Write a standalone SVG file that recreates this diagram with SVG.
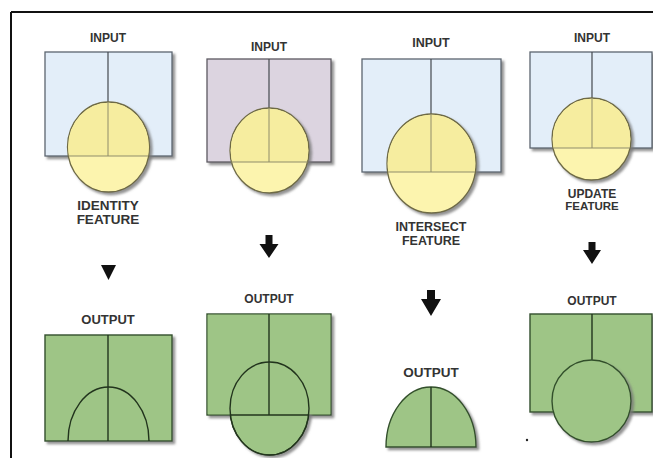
<svg xmlns="http://www.w3.org/2000/svg" width="653" height="458" viewBox="0 0 653 458">
<defs>
<filter id="sh" x="-10%" y="-10%" width="130%" height="130%">
<feDropShadow dx="2.5" dy="2.5" stdDeviation="1.2" flood-color="#777" flood-opacity="0.8"/>
</filter>
<clipPath id="c1"><rect x="45" y="52" width="127" height="104"/></clipPath>
<clipPath id="c2"><rect x="207" y="59" width="124" height="103"/></clipPath>
<clipPath id="c3"><rect x="362" y="59" width="139" height="113"/></clipPath>
<clipPath id="c4"><rect x="530" y="52" width="122" height="96"/></clipPath>
</defs>
<style>
text{font-family:"Liberation Sans",Arial,sans-serif;font-weight:bold;fill:#333;text-anchor:middle}
.blue{fill:#e3eef9;stroke:#5d6670;stroke-width:1.3}
.lav{fill:#dcd4e0;stroke:#5d5a62;stroke-width:1.3}
.yel{fill:#fcf4ae;stroke:#6e6a45;stroke-width:1.3}
.yin{fill:#f6ed9f}
.ln{stroke:#44484e;stroke-width:1.2;fill:none}
.lnl{stroke:#8f8c6a;stroke-width:1;fill:none}
.grn{fill:#9ec586;stroke:#33502c;stroke-width:1.4}
.gl{stroke:#22341d;stroke-width:1.4;fill:none}
.arr{fill:#111}
</style>
<g id="frame">
<line x1="11" y1="12" x2="653" y2="12" stroke="#111" stroke-width="2"/>
<line x1="11" y1="12" x2="11" y2="458" stroke="#111" stroke-width="2"/>
</g>
<g id="identity-input">
<text x="108" y="42" font-size="12">INPUT</text>
<rect class="blue" x="45" y="52" width="127" height="104" filter="url(#sh)"/>
<line class="ln" x1="108" y1="52" x2="108" y2="102"/>
<ellipse class="yel" cx="108.5" cy="147" rx="41" ry="45" filter="url(#sh)"/>
<ellipse class="yin" cx="108.5" cy="147" rx="40.3" ry="44.3" clip-path="url(#c1)"/>
<line class="lnl" x1="108" y1="102" x2="108" y2="156"/>
<line class="lnl" x1="69" y1="156" x2="148" y2="156"/>
</g>
<g id="identity-feature">
<text x="108" y="210" font-size="13.5">IDENTITY</text>
<text x="108" y="224" font-size="13.5">FEATURE</text>
</g>
<g id="identity-output">
<text x="108" y="324" font-size="13">OUTPUT</text>
<rect class="grn" x="45" y="335" width="127" height="106" filter="url(#sh)"/>
<line class="gl" x1="108" y1="335" x2="108" y2="441"/>
<path class="gl" d="M68,441 A40.5,54 0 0 1 149,441"/>
</g>
<g id="merge-input">
<text x="269" y="51" font-size="12">INPUT</text>
<rect class="lav" x="207" y="59" width="124" height="103" filter="url(#sh)"/>
<line class="ln" x1="269" y1="59" x2="269" y2="108"/>
<ellipse class="yel" cx="269.5" cy="150.5" rx="39.5" ry="42.5" filter="url(#sh)"/>
<ellipse class="yin" cx="269.5" cy="150.5" rx="38.8" ry="41.8" clip-path="url(#c2)"/>
<line class="lnl" x1="269" y1="108" x2="269" y2="162"/>
<line class="lnl" x1="231" y1="162" x2="308" y2="162"/>
</g>
<g id="merge-output">
<text x="269" y="303" font-size="12">OUTPUT</text>
<rect class="grn" x="207" y="314" width="124" height="101" filter="url(#sh)"/>
<ellipse class="grn" cx="269.5" cy="408.5" rx="39.5" ry="46.5" filter="url(#sh)"/>
<rect x="207.7" y="314.7" width="122.6" height="99.6" fill="#9ec586"/>
<ellipse class="gl" cx="269.5" cy="408.5" rx="39.5" ry="46.5" stroke="#33502c"/>
<line class="gl" x1="269" y1="314" x2="269" y2="415"/>
<line class="gl" x1="230" y1="415" x2="309" y2="415" stroke="#33502c"/>
</g>
<g id="intersect-input">
<text x="431" y="47" font-size="12.5">INPUT</text>
<rect class="blue" x="362" y="59" width="139" height="113" filter="url(#sh)"/>
<line class="ln" x1="431" y1="59" x2="431" y2="114"/>
<ellipse class="yel" cx="431.5" cy="163.5" rx="44.5" ry="49.5" filter="url(#sh)"/>
<ellipse class="yin" cx="431.5" cy="163.5" rx="43.8" ry="48.8" clip-path="url(#c3)"/>
<line class="lnl" x1="431" y1="114" x2="431" y2="172"/>
<line class="lnl" x1="388" y1="172" x2="475" y2="172"/>
</g>
<g id="intersect-feature">
<text x="431" y="231" font-size="12.5">INTERSECT</text>
<text x="431" y="244.5" font-size="12.5">FEATURE</text>
</g>
<g id="intersect-output">
<text x="431" y="377" font-size="13.5">OUTPUT</text>
<path class="grn" d="M386,447 A45,60 0 0 1 476,447 Z" filter="url(#sh)"/>
<line class="gl" x1="431" y1="387" x2="431" y2="447"/>
</g>
<g id="update-input">
<text x="592" y="42" font-size="12">INPUT</text>
<rect class="blue" x="530" y="52" width="122" height="96" filter="url(#sh)"/>
<line class="ln" x1="592" y1="52" x2="592" y2="98"/>
<ellipse class="yel" cx="591.5" cy="139" rx="39.5" ry="41" filter="url(#sh)"/>
<ellipse class="yin" cx="591.5" cy="139" rx="38.8" ry="40.3" clip-path="url(#c4)"/>
<line class="lnl" x1="592" y1="98" x2="592" y2="148"/>
<line class="lnl" x1="553" y1="148" x2="630" y2="148"/>
</g>
<g id="update-feature">
<text x="592" y="198" font-size="12">UPDATE</text>
<text x="592" y="210" font-size="11.5">FEATURE</text>
</g>
<g id="update-output">
<text x="592" y="305" font-size="12">OUTPUT</text>
<rect class="grn" x="530" y="314" width="122" height="98" filter="url(#sh)"/>
<line class="gl" x1="592" y1="314" x2="592" y2="360"/>
<ellipse class="grn" cx="591.5" cy="401" rx="39.5" ry="41" filter="url(#sh)"/>
</g>
<g id="connectors">
<polygon class="arr" points="101,265 116,265 108.5,280"/>
<polygon class="arr" points="265.5,235 272.5,235 272.5,244 278.5,244 269,258 259.5,244 265.5,244"/>
<polygon class="arr" points="427,290 435,290 435,299 441,299 431,316 421,299 427,299"/>
<polygon class="arr" points="588.5,242 595.5,242 595.5,250 601,250 592,264 583,250 588.5,250"/>
</g>
<circle cx="527" cy="440" r="1.2" fill="#222"/>
</svg>
